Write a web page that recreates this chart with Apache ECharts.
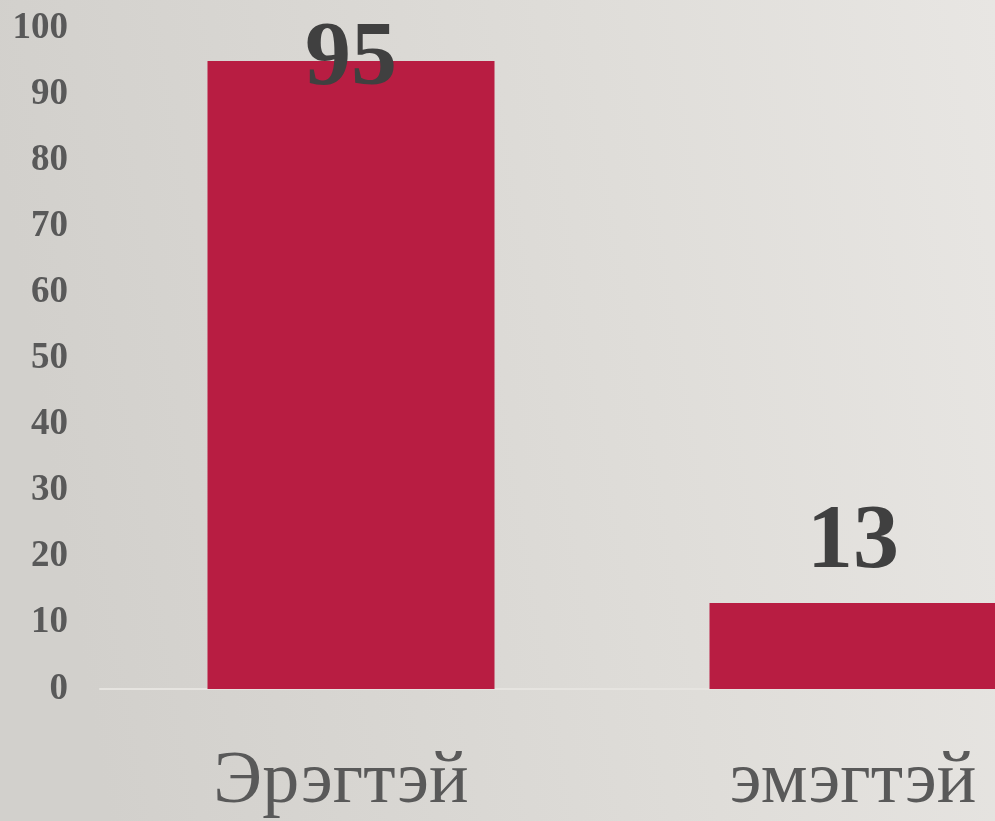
<!DOCTYPE html>
<html>
<head>
<meta charset="utf-8">
<script src="https://cdn.jsdelivr.net/npm/echarts@6/dist/echarts.min.js"></script>
<style>
  html, body { margin: 0; padding: 0; overflow: hidden; width: 995px; height: 821px; }
  /* chart runs past the right edge, like the cropped original */
  #chart { width: 1105px; height: 821px; }
</style>
</head>
<body>
<div id="chart"></div>
<script>
const categories = ["Эрэгтэй", "эмэгтэй"];
const values = [95, 13];
const yTicks = { min: 0, max: 100, interval: 10 };

const chart = echarts.init(document.getElementById("chart"));

chart.setOption({
  backgroundColor: {
    type: "linear", x: 0, y: 0.2, x2: 0.9, y2: 0,
    colorStops: [
      { offset: 0, color: "#d2d0cc" },
      { offset: 0.6, color: "#dfddd9" },
      { offset: 1, color: "#e8e6e3" }
    ]
  },
  grid: { left: 100, top: 28, width: 1004, height: 661 },
  xAxis: {
    type: "category",
    data: categories.map((c, i) => ({
      value: c,
      textStyle: { padding: i === 0 ? [0, 20, 0, 0] : 0 }
    })),
    axisLine: { show: true, lineStyle: { color: "#e6e4e0", width: 2 } },
    axisTick: { show: false },
    axisLabel: {
      color: "#595959",
      fontFamily: "Liberation Serif",
      fontSize: 74,
      margin: 57
    }
  },
  yAxis: {
    type: "value",
    min: yTicks.min,
    max: yTicks.max,
    interval: yTicks.interval,
    splitLine: { show: false },
    axisLine: { show: false },
    axisTick: { show: false },
    axisLabel: {
      color: "#595959",
      fontFamily: "Liberation Serif",
      fontWeight: "bold",
      fontSize: 37,
      margin: 32
    }
  },
  series: [{
    type: "bar",
    barWidth: 287,
    itemStyle: { color: "#b81d42" },
    data: values.map((v, i) => ({
      value: v,
      label: { offset: [0, i === 0 ? 59 : 0] }
    })),
    label: {
      show: true,
      position: "top",
      distance: 14,
      color: "#404040",
      fontFamily: "Liberation Serif",
      fontWeight: "bold",
      fontSize: 92
    }
  }]
});
</script>
</body>
</html>
